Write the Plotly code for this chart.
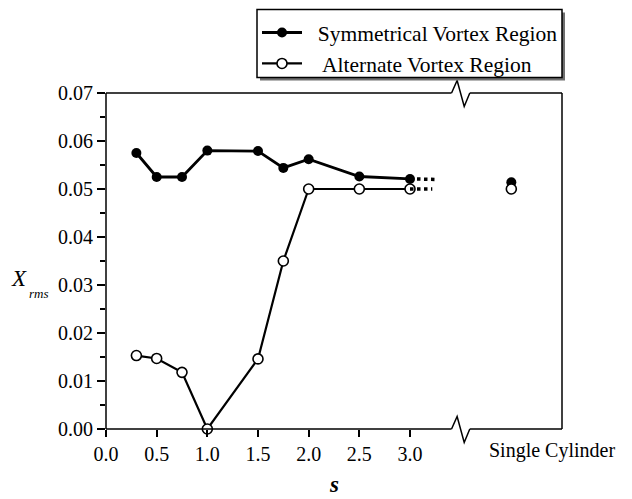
import plotly.graph_objects as go

# Spacing s and RMS displacement for the two wake regimes
s_vals = [0.3, 0.5, 0.75, 1.0, 1.5, 1.75, 2.0, 2.5, 3.0]
sym_vals = [0.0575, 0.0525, 0.0525, 0.0580, 0.0579, 0.0544, 0.0562, 0.0526, 0.0521]
alt_vals = [0.0153, 0.0147, 0.0118, 0.0000, 0.0146, 0.0350, 0.0500, 0.0500, 0.0500]

# Trend continuation beyond the last spacing
ext_s = [3.0, 3.25]
sym_ext = [0.0521, 0.0520]
alt_ext_s = [3.0, 3.22]
alt_ext = [0.0500, 0.0500]

# Isolated single-cylinder reference values
single_s = [4.0]
single_sym = [0.0514]
single_alt = [0.0500]

x_tickvals = [0.0, 0.5, 1.0, 1.5, 2.0, 2.5, 3.0]
x_ticktext = ["0.0", "0.5", "1.0", "1.5", "2.0", "2.5", "3.0"]
x_extra_ticks = [4.0, 4.5]
y_tickvals = [0.00, 0.01, 0.02, 0.03, 0.04, 0.05, 0.06, 0.07]
y_ticktext = ["0.00", "0.01", "0.02", "0.03", "0.04", "0.05", "0.06", "0.07"]

X_RANGE = [0.0, 4.5]
Y_RANGE = [0.0, 0.07]
BREAK_AT = 3.5

FONT = "Liberation Serif"
W, H = 632, 499
L, R, T, B = 106, 70, 93, 70
PW, PH = W - L - R, H - T - B


def px_x(p):
    return (p - L) / PW


def px_y(p):
    return (H - B - p) / PH


def sx(s):
    return (s - X_RANGE[0]) / (X_RANGE[1] - X_RANGE[0])


NB = "\u00a0"
fig = go.Figure()

fig.add_trace(go.Scatter(
    x=s_vals, y=sym_vals, mode="lines+markers",
    name=NB * 2 + "Symmetrical Vortex Region", legendgroup="sym",
    line=dict(color="black", width=2.8),
    marker=dict(symbol="circle", size=10, color="black"),
))
fig.add_trace(go.Scatter(
    x=s_vals, y=alt_vals, mode="lines+markers",
    name=NB * 2 + "\u2009Alternate Vortex Region", legendgroup="alt",
    line=dict(color="black", width=2.2),
    marker=dict(symbol="circle", size=10, color="white",
                line=dict(color="black", width=1.6)),
    cliponaxis=False,
))
fig.add_trace(go.Scatter(
    x=ext_s, y=sym_ext, mode="lines", showlegend=False, legendgroup="sym",
    line=dict(color="black", width=3.5, dash="dot"),
))
fig.add_trace(go.Scatter(
    x=alt_ext_s, y=alt_ext, mode="lines", showlegend=False, legendgroup="alt",
    line=dict(color="black", width=3.5, dash="dot"),
))
fig.add_trace(go.Scatter(
    x=single_s, y=single_sym, mode="markers", showlegend=False, legendgroup="sym",
    marker=dict(symbol="circle", size=10, color="black"),
))
fig.add_trace(go.Scatter(
    x=single_s, y=single_alt, mode="markers", showlegend=False, legendgroup="alt",
    marker=dict(symbol="circle", size=10, color="white",
                line=dict(color="black", width=1.6)),
))

tick_font = dict(family=FONT, size=20, color="black")
minor_out = dict(dtick=0.005, ticks="outside", ticklen=5, tickwidth=1.5,
                 tickcolor="black", showgrid=False)
minor_in = dict(dtick=0.005, ticks="inside", ticklen=5, tickwidth=1.5,
                tickcolor="black", showgrid=False)

fig.update_layout(
    width=W, height=H,
    margin=dict(l=L, r=R, t=T, b=B, autoexpand=False),
    paper_bgcolor="white", plot_bgcolor="white",
    font=dict(family=FONT, size=20, color="black"),
    xaxis=dict(
        range=X_RANGE, showgrid=False, zeroline=False, showline=False,
        tickmode="array", tickvals=x_tickvals, ticktext=x_ticktext,
        ticks="outside", ticklen=7, tickwidth=1.5, tickcolor="black",
        tickfont=tick_font,
    ),
    # unlabeled ticks at the single-cylinder position and the right end
    xaxis3=dict(
        range=X_RANGE, overlaying="x", side="bottom", anchor="y",
        showgrid=False, zeroline=False, showline=False,
        tickmode="array", tickvals=x_extra_ticks, showticklabels=False,
        ticks="outside", ticklen=7, tickwidth=1.5, tickcolor="black",
    ),
    xaxis2=dict(
        range=X_RANGE, overlaying="x", side="top", anchor="y",
        showgrid=False, zeroline=False, showline=False,
        tickmode="array", tickvals=x_tickvals + x_extra_ticks[:1],
        showticklabels=False,
        ticks="inside", ticklen=6, tickwidth=1.5, tickcolor="black",
    ),
    yaxis=dict(
        range=Y_RANGE, showgrid=False, zeroline=False, showline=False,
        tickmode="array", tickvals=y_tickvals, ticktext=y_ticktext,
        ticks="outside", ticklen=8, tickwidth=1.5, tickcolor="black",
        minor=minor_out, tickfont=tick_font,
    ),
    yaxis2=dict(
        range=Y_RANGE, overlaying="y", side="right", anchor="x",
        showgrid=False, zeroline=False, showline=False,
        tickmode="array", tickvals=y_tickvals, showticklabels=False,
        ticks="inside", ticklen=6, tickwidth=1.5, tickcolor="black",
        minor=minor_in,
    ),
    legend=dict(
        x=px_x(257), y=px_y(12), xanchor="left", yanchor="top",
        bgcolor="rgba(0,0,0,0)", borderwidth=0,
        font=dict(family=FONT, size=21.5, color="black"),
        tracegroupgap=0, itemwidth=40,
    ),
    showlegend=True,
)

# Frame with a gap where the axis break sits
frame = dict(type="line", xref="paper", yref="paper",
             line=dict(color="black", width=1.5), layer="above")
gap_l, gap_r = BREAK_AT - 0.09, BREAK_AT + 0.09
shapes = [
    dict(frame, x0=0, x1=sx(gap_l), y0=0, y1=0),
    dict(frame, x0=sx(gap_r), x1=1, y0=0, y1=0),
    dict(frame, x0=0, x1=sx(gap_l), y0=1, y1=1),
    dict(frame, x0=sx(gap_r), x1=1, y0=1, y1=1),
    dict(frame, x0=0, x1=0, y0=0, y1=1),
    dict(frame, x0=1, x1=1, y0=0, y1=1),
]

# Zig-zag break marks on the top and bottom axes
up, down = 12.5 / PH, 13.5 / PH
for yb in (0.0, 1.0):
    pts = [(sx(gap_l), yb), (sx(BREAK_AT - 0.035), yb + up),
           (sx(BREAK_AT + 0.035), yb - down), (sx(gap_r), yb)]
    path = "M " + " L ".join(f"{x:.5f},{y:.5f}" for x, y in pts)
    shapes.append(dict(type="path", xref="paper", yref="paper", path=path,
                       line=dict(color="black", width=1.5), layer="above"))

# Legend box with a drop shadow
shapes.append(dict(type="rect", xref="paper", yref="paper",
                   x0=px_x(260), x1=px_x(565), y0=px_y(80.5), y1=px_y(12.5),
                   fillcolor="#6f6f6f", line=dict(width=0), layer="above"))
shapes.append(dict(type="rect", xref="paper", yref="paper",
                   x0=px_x(257), x1=px_x(562), y0=px_y(77.5), y1=px_y(9.5),
                   fillcolor="white", line=dict(color="black", width=1.5),
                   layer="above"))
fig.update_layout(shapes=shapes)

fig.add_annotation(
    text="Single Cylinder", xref="paper", yref="paper",
    x=px_x(552), y=px_y(450), xanchor="center", yanchor="middle",
    showarrow=False, font=dict(family=FONT, size=20, color="black"),
)
# Y-axis label: italic X followed by a lowered italic "rms"
fig.add_annotation(
    text="<i>X</i>", xref="paper", yref="paper",
    x=px_x(18.5), y=px_y(278), xanchor="center", yanchor="middle",
    showarrow=False, font=dict(family=FONT, size=23, color="black"),
)
fig.add_annotation(
    text="<i>rms</i>", xref="paper", yref="paper",
    x=px_x(26.5), y=px_y(293), xanchor="left", yanchor="middle",
    showarrow=False, font=dict(family=FONT, size=13, color="black"),
)
fig.add_annotation(
    text="<b><i>s</i></b>", xref="paper", yref="paper",
    x=0.5, y=px_y(498.5), xanchor="center", yanchor="bottom",
    showarrow=False, font=dict(family=FONT, size=23, color="black"),
)

fig.write_html("out.html")
